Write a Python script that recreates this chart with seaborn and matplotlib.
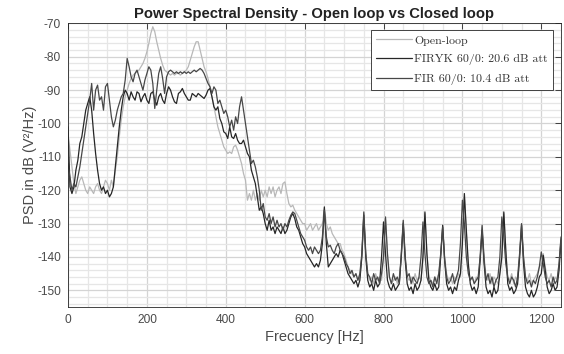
import numpy as np
import pandas as pd
import matplotlib
matplotlib.use("Agg")
import matplotlib.pyplot as plt
import seaborn as sns
from matplotlib.ticker import MultipleLocator
from matplotlib.lines import Line2D

# Frequency grid (Hz), 5 Hz spacing
FREQ_HZ = np.arange(0, 1255, 5)

OPEN_LOOP = [
    -103, -108, -113, -118, -121, -119, -117, -116, -118, -120,
    -121, -119, -120, -121, -119, -118, -120, -121, -119, -117,
    -118, -120, -117, -119, -114, -110, -104, -99, -95, -92,
    -90, -88, -86.5, -85.5, -85, -84.5, -84, -83, -82, -80.5,
    -78.5, -76, -73, -71, -72.5, -75.5, -78, -80.5, -82.5, -84,
    -84.5, -85, -85.5, -85, -85.5, -85, -85, -85.5, -85, -84.5,
    -84, -83, -81, -79, -77, -75.5, -75.5, -78, -80.5, -83,
    -84.5, -86.5, -89, -92, -95, -98, -101, -103, -105, -107,
    -108, -109, -108.5, -109, -107, -106.5, -108, -110, -112, -115,
    -117, -123, -121, -123, -120, -123, -121, -123, -120, -122,
    -120, -122, -119, -121, -119, -122, -120, -119, -121, -118,
    -117.5, -121, -124, -125, -124.5, -126, -127, -128, -129, -130,
    -130, -132, -131, -130, -132, -131, -130, -132, -131, -130,
    -125.5, -130, -132, -131, -133, -134, -135, -136, -136, -138,
    -139, -141, -143, -144, -145, -146, -145, -147, -146, -140,
    -127, -139, -145, -147, -146, -148, -145, -147, -146, -147,
    -140, -128.5, -140, -146, -148, -147, -146, -148, -146, -140,
    -129.5, -140, -146, -147, -146, -148, -145, -147, -146, -147,
    -140, -127, -139, -146, -147, -148, -146, -147, -145, -140,
    -131, -140, -145, -147, -146, -148, -146, -147, -145, -146,
    -135, -122, -133, -143, -147, -146, -148, -146, -147, -140,
    -131, -140, -146, -147, -145, -148, -146, -147, -148, -145,
    -139, -127, -138, -146, -147, -145, -148, -146, -147, -141,
    -130.5, -140, -146, -147, -145, -148, -147, -146, -145, -143,
    -142, -139, -143, -146, -147, -145, -148, -146, -147, -142,
    -134.5,
]

FIRYK = [
    -101, -119, -121, -119, -114, -111, -106, -104, -100, -96,
    -94, -92, -96, -103, -109, -114, -118, -120, -119, -121,
    -120, -122, -121, -119, -113, -107, -101, -96, -92, -90,
    -91, -93, -90.5, -92, -93, -90.5, -91, -93.5, -92, -91,
    -93, -94, -91, -90.5, -93, -94.5, -92, -91, -93, -94,
    -91, -89, -90, -92, -93.5, -94, -91, -90.5, -89.5, -91,
    -92, -93, -93, -91, -91.5, -92, -91, -91.5, -92, -92.5,
    -91.5, -90, -89.5, -92, -95, -96, -95, -98.5, -100, -102.5,
    -103, -104.5, -101, -104, -104.5, -103, -105, -106, -106, -105,
    -107, -109, -110, -114, -116, -118, -122, -126, -125, -127,
    -130, -132, -129, -132, -131, -133, -131, -132, -133, -131,
    -133, -132, -130, -128, -127, -128.5, -131, -132, -134, -136,
    -137, -139, -140, -141, -142, -143, -142, -143, -141, -136,
    -125, -136, -143, -142, -141, -140, -139, -140, -138, -139,
    -141, -143, -145, -146, -147, -148, -147, -149, -147, -140,
    -127.5, -140, -147, -149, -148, -150, -147, -149, -148, -140,
    -129.5, -139, -147, -149, -150, -148, -150, -149, -148, -140,
    -130, -141, -148, -150, -149, -151, -148, -150, -149, -147,
    -140, -126.5, -139, -147, -149, -150, -148, -150, -149, -140,
    -130.5, -141, -148, -150, -149, -151, -149, -150, -147, -145,
    -136, -121, -132, -142, -148, -150, -149, -151, -149, -141,
    -132, -142, -149, -151, -150, -152, -149, -151, -150, -145,
    -140, -126.5, -138, -148, -150, -149, -151, -150, -148, -140,
    -130.5, -142, -149, -151, -152, -150, -152, -151, -149, -146,
    -145, -139.5, -144, -149, -151, -150, -148, -150, -149, -144,
    -135,
]

FIR = [
    -112, -116, -120, -118, -119, -116, -113, -109, -105, -101,
    -97, -93, -88, -96, -90, -88.5, -93, -92, -96, -89,
    -88, -93, -98, -101, -99, -96, -94, -92, -91, -87,
    -80.5, -83, -86, -87.5, -85, -84, -86, -88, -90, -87,
    -85, -83, -84, -88, -95.5, -90, -85, -83, -86.5, -91,
    -86, -84.5, -84, -84.5, -85, -84.5, -85, -84.5, -85, -84.5,
    -85, -84.5, -85, -84.5, -84, -84.5, -84, -83.5, -84, -85,
    -86.5, -88, -89, -91, -89, -90, -94, -93, -95, -97,
    -96, -98, -101, -99, -102, -98, -100, -95, -92, -96,
    -100, -104, -108, -112, -111, -113, -116, -120, -126, -124,
    -128, -129, -127, -130, -128, -131, -129, -131, -130, -132,
    -130, -131, -129, -127.5, -126.5, -127, -129, -131, -133, -134,
    -135, -137, -138, -137, -139, -137, -138, -139, -138, -134,
    -126, -134, -137, -136.5, -138, -139, -137, -136, -138, -139,
    -140, -142, -143, -145, -144, -146, -145, -147, -145, -139,
    -126.5, -139, -145, -146, -148, -145, -147, -146, -148, -145,
    -140, -128, -139, -146, -148, -145, -147, -146, -148, -139,
    -129, -140, -146, -145, -148, -146, -147, -148, -146, -140,
    -129.5, -139, -146, -148, -147, -149, -146, -148, -145, -139,
    -131, -141, -146, -148, -147, -145, -148, -146, -144, -136,
    -123, -130, -140, -145, -147, -146, -148, -147, -146, -140,
    -130.5, -141, -147, -145, -148, -146, -149, -147, -146, -140,
    -128, -134, -142, -146, -148, -146, -147, -149, -146, -139,
    -130, -140, -146, -148, -147, -149, -147, -148, -146, -143,
    -138.5, -142, -146, -148, -147, -149, -146, -148, -147, -142,
    -134,
]

SERIES_NAMES = ["Open-loop", "FIRYK 60/0: 20.6 dB att", "FIR 60/0: 10.4 dB att"]
SERIES_VALUES = [OPEN_LOOP, FIRYK, FIR]
COLORS = ["#b8b8b8", "#262626", "#474747"]

df = pd.concat(
    [pd.DataFrame({"freq": FREQ_HZ, "psd": vals, "series": name})
     for name, vals in zip(SERIES_NAMES, SERIES_VALUES)],
    ignore_index=True,
)

sns.set_style("white")
plt.rcParams["font.family"] = ["Liberation Sans", "DejaVu Sans"]
plt.rcParams["axes.unicode_minus"] = False

fig = plt.figure(figsize=(5.64, 3.54), dpi=100)
ax = fig.add_axes([68 / 564, 1 - 307 / 354, (561 - 68) / 564, (307 - 23.4) / 354])

sns.lineplot(
    data=df, x="freq", y="psd", hue="series", hue_order=SERIES_NAMES,
    palette=dict(zip(SERIES_NAMES, COLORS)), estimator=None, sort=False,
    linewidth=0.9, legend=False, ax=ax,
)

ax.set_xlim(0, 1250)
ax.set_ylim(-155, -70)
ax.xaxis.set_major_locator(MultipleLocator(200))
ax.xaxis.set_minor_locator(MultipleLocator(50))
ax.yaxis.set_major_locator(MultipleLocator(10))
ax.yaxis.set_minor_locator(MultipleLocator(2))
ax.set_axisbelow(True)
ax.grid(which="major", color="#d4d4d4", linewidth=0.9)
ax.grid(which="minor", color="#e6e6e6", linewidth=0.9)

ax.tick_params(which="major", direction="in", length=4, width=0.6, top=True, right=True,
               color="#262626", labelcolor="#4a4a4a", labelsize=8.6, pad=5)
ax.tick_params(which="minor", length=0, top=True, right=True)
for sp in ax.spines.values():
    sp.set_color("#262626")
    sp.set_linewidth(0.6)

ax.set_xlabel("Frecuency [Hz]", fontsize=10.5, color="#4a4a4a", labelpad=3)
ax.set_ylabel("PSD in dB (V²/Hz)", fontsize=10.5, color="#4a4a4a", labelpad=0)
ax.set_title("Power Spectral Density - Open loop vs Closed loop", fontsize=10.6,
             fontweight="bold", color="#222222", pad=4)

handles = [Line2D([], [], color=c, lw=0.9) for c in COLORS]
leg = ax.legend(handles, SERIES_NAMES, loc="upper right", bbox_to_anchor=(0.984, 0.977),
                borderaxespad=0, prop={"family": "cmr10", "size": 8.6}, frameon=True,
                fancybox=False, edgecolor="#262626", framealpha=1, handlelength=3.0,
                handletextpad=0.2, borderpad=0.45, labelspacing=0.7)
leg.get_frame().set_linewidth(0.6)
for t in leg.get_texts():
    t.set_color("#333333")

fig.savefig("out.png", dpi=100)
